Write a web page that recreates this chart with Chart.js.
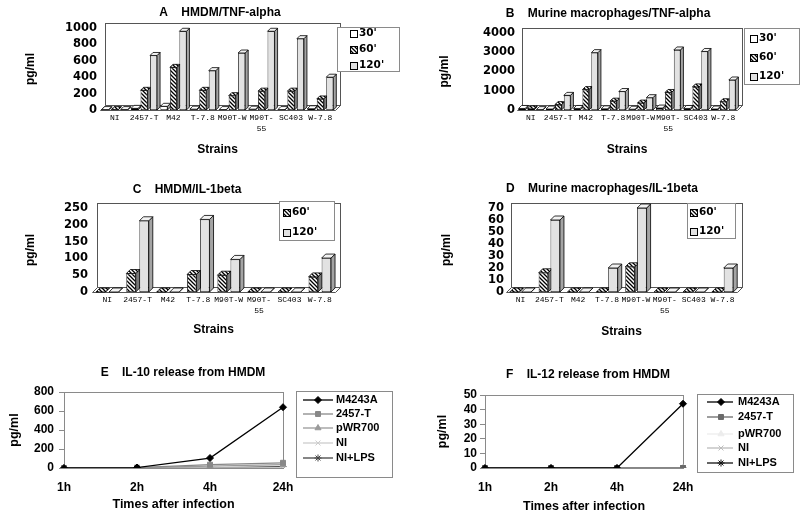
<!DOCTYPE html>
<html><head><meta charset="utf-8">
<script src="https://cdn.jsdelivr.net/npm/chart.js@4.4.1/dist/chart.umd.min.js"></script>
<style>
html,body{margin:0;padding:0;background:#fff;}
body{position:relative;width:800px;height:518px;overflow:hidden;}
canvas{position:absolute;display:block;}
</style></head><body>
<canvas id="cA" width="400" height="165" style="left:0px;top:0px;width:400px;height:165px"></canvas>
<canvas id="cB" width="400" height="165" style="left:400px;top:0px;width:400px;height:165px"></canvas>
<canvas id="cC" width="400" height="170" style="left:0px;top:170px;width:400px;height:170px"></canvas>
<canvas id="cD" width="400" height="170" style="left:400px;top:170px;width:400px;height:170px"></canvas>
<canvas id="cE" width="400" height="178" style="left:0px;top:340px;width:400px;height:178px"></canvas>
<canvas id="cF" width="400" height="178" style="left:400px;top:340px;width:400px;height:178px"></canvas>
<script>
// ---------------- data ----------------
const strains = ['NI', '2457-T', 'M42', 'T-7.8', 'M90T-W', ['M90T-', '55'], 'SC403', 'W-7.8'];
const timeLabels3 = ["30'", "60'", "120'"];
const timeLabels2 = ["60'", "120'"];

const hmdmTnf30  = [5, 20, 45, 10, 5, 10, 5, 15];
const hmdmTnf60  = [5, 240, 520, 240, 175, 230, 230, 135];
const hmdmTnf120 = [5, 665, 960, 480, 695, 960, 870, 400];

const murTnf30  = [80, 50, 80, 60, 40, 100, 80, 50];
const murTnf60  = [60, 280, 1060, 460, 360, 910, 1200, 430];
const murTnf120 = [20, 760, 2980, 960, 640, 3120, 3040, 1560];

const hmdmIl60  = [0, 55, 0, 52, 50, 0, 0, 45];
const hmdmIl120 = [0, 212, 0, 216, 97, 0, 0, 101];

const murIl60  = [0, 16, 0, 0, 21, 0, 0, 0];
const murIl120 = [0, 60, 0, 20, 70, 0, 0, 20];

const hours = ['1h', '2h', '4h', '24h'];
const lineNames = ['M4243A', '2457-T', 'pWR700', 'NI', 'NI+LPS'];

const il10M4243A = [0, 5, 105, 640];
const il10T2457  = [0, 5, 35, 55];
const il10PWR700 = [0, 3, 20, 35];
const il10NI     = [0, 0, 0, 0];
const il10NILPS  = [0, 0, 0, 15];

const il12M4243A = [0, 0, 0, 44];
const il12T2457  = [0, 0, 0, 0];
const il12PWR700 = [0, 0, 0, 0];
const il12NI     = [0, 0, 0, 0];
const il12NILPS  = [0, 0, 0, 0];

// ---------------- styles ----------------
const SANS = "'Liberation Sans', Arial, sans-serif";
const TICK = "'DejaVu Sans', sans-serif";
const MONO = "'Liberation Mono', 'Courier New', monospace";
Chart.defaults.color = '#000';

function hatchPattern() {
  const c = document.createElement('canvas');
  c.width = 4; c.height = 4;
  const g = c.getContext('2d');
  g.fillStyle = '#fff'; g.fillRect(0, 0, 4, 4);
  g.strokeStyle = '#000'; g.lineWidth = 1.3;
  g.beginPath();
  g.moveTo(-1, -1); g.lineTo(5, 5);
  g.moveTo(-1, 3); g.lineTo(1, 5);
  g.moveTo(3, -1); g.lineTo(5, 1);
  g.stroke();
  return g.createPattern(c, 'repeat');
}
const HATCH = hatchPattern();

const barStyle = {
  "30'":  { front: '#ffffff', top: '#ffffff', side: '#9a9a9a' },
  "60'":  { front: HATCH,     top: HATCH,     side: '#7a7a7a' },
  "120'": { front: '#e2e2e2', top: '#f2f2f2', side: '#a4a4a4' }
};

// ---------------- plugins ----------------
const titleShift = {
  id: 'titleShift',
  afterLayout(chart, args, o) {
    const t = chart.titleBlock;
    if (t && o && o.cx != null) { t.left = o.cx - 180; t.right = o.cx + 180; }
  }
};

const bar3d = {
  id: 'bar3d',
  beforeDatasetsDraw(chart, args, o) {
    const ctx = chart.ctx, ca = chart.chartArea;
    const wx = o.wall[0], wy = o.wall[1], d = o.depth;
    ctx.save();
    ctx.lineWidth = 1;
    ctx.strokeStyle = '#555';
    const L = Math.round(ca.left) + 0.5, R = Math.round(ca.right) + 0.5;
    const T = Math.round(ca.top) + 0.5, B = Math.round(ca.bottom) + 0.5;
    ctx.strokeRect(L + wx, T - wy, R - L, B - T);
    ctx.beginPath();
    ctx.moveTo(L, B); ctx.lineTo(R, B); ctx.lineTo(R + wx, B - wy); ctx.lineTo(L + wx, B - wy); ctx.closePath();
    ctx.fillStyle = '#fff'; ctx.fill(); ctx.stroke();
    const metas = chart.getSortedVisibleDatasetMetas();
    const n = chart.data.labels.length;
    ctx.lineWidth = 0.8;
    ctx.strokeStyle = '#000';
    for (let j = 0; j < n; j++) {
      for (const m of metas) {
        const el = m.data[j];
        const ds = chart.data.datasets[m.index];
        const p = el.getProps(['x', 'y', 'base', 'width'], true);
        const l = p.x - p.width / 2, r = p.x + p.width / 2, y = p.y, b = p.base;
        ctx.beginPath();
        ctx.moveTo(r, b); ctx.lineTo(r + d, b - d); ctx.lineTo(r + d, y - d); ctx.lineTo(r, y); ctx.closePath();
        ctx.fillStyle = ds.sideColor; ctx.fill(); ctx.stroke();
        ctx.beginPath();
        ctx.moveTo(l, y); ctx.lineTo(l + d, y - d); ctx.lineTo(r + d, y - d); ctx.lineTo(r, y); ctx.closePath();
        ctx.fillStyle = ds.topColor; ctx.fill(); ctx.stroke();
        el.draw(ctx, ca);
      }
    }
    ctx.restore();
    return false;
  }
};

const frame = {
  id: 'frame',
  beforeDatasetsDraw(chart) {
    const ctx = chart.ctx, ca = chart.chartArea;
    ctx.save();
    ctx.strokeStyle = '#8a8a8a'; ctx.lineWidth = 1;
    const L = Math.round(ca.left) + 0.5, R = Math.round(ca.right) + 0.5;
    const T = Math.round(ca.top) + 0.5, B = Math.round(ca.bottom) + 0.5;
    ctx.strokeRect(L, T, R - L, B - T);
    ctx.restore();
  }
};

const boxLegend = {
  id: 'boxLegend',
  afterDraw(chart, args, o) {
    const ctx = chart.ctx;
    ctx.save();
    const [x1, y1, x2, y2] = o.box;
    ctx.fillStyle = '#fff';
    ctx.fillRect(x1, y1, x2 - x1, y2 - y1);
    ctx.strokeStyle = '#8a8a8a'; ctx.lineWidth = 1;
    ctx.strokeRect(x1 + 0.5, y1 + 0.5, x2 - x1, y2 - y1);
    ctx.font = o.font;
    ctx.textBaseline = 'middle';
    ctx.textAlign = 'left';
    chart.data.datasets.forEach((ds, i) => {
      const y = o.rows[i];
      if (o.kind === 'bar') {
        const s = 7;
        ctx.fillStyle = ds.backgroundColor;
        ctx.fillRect(o.markX, Math.round(y - s / 2), s, s);
        ctx.strokeStyle = '#000'; ctx.lineWidth = 1;
        ctx.strokeRect(o.markX + 0.5, Math.round(y - s / 2) + 0.5, s, s);
      } else {
        ctx.strokeStyle = ds.borderColor; ctx.lineWidth = ds.borderWidth;
        ctx.beginPath(); ctx.moveTo(o.lineX[0], y); ctx.lineTo(o.lineX[1], y); ctx.stroke();
        ctx.fillStyle = ds.pointBackgroundColor; ctx.strokeStyle = ds.pointBorderColor;
        ctx.lineWidth = 1;
        Chart.helpers.drawPoint(ctx, { pointStyle: ds.pointStyle, radius: ds.pointRadius, rotation: 0, borderWidth: 1 }, o.markX, y);
      }
      ctx.fillStyle = '#000';
      ctx.fillText(ds.label, o.textX, y);
    });
    ctx.restore();
  }
};

const plain = v => String(v);

// ---------------- builders ----------------
function barSets(names, arrays) {
  return names.map((nm, i) => ({
    label: nm,
    data: arrays[i],
    backgroundColor: barStyle[nm].front,
    topColor: barStyle[nm].top,
    sideColor: barStyle[nm].side,
    borderColor: '#000',
    borderWidth: 0.8,
    borderSkipped: false
  }));
}

function makeBar(id, g, names, arrays, yMax, yStep) {
  const lh = 14.4;
  return new Chart(document.getElementById(id), {
    type: 'bar',
    data: { labels: strains, datasets: barSets(names, arrays) },
    options: {
      responsive: false, animation: false, devicePixelRatio: 1,
      events: [],
      layout: { padding: { left: 0, top: 0, bottom: 0, right: g.W - g.R } },
      datasets: { bar: { categoryPercentage: g.cat, barPercentage: g.bar } },
      scales: {
        x: {
          grid: { display: false, drawTicks: false }, border: { display: false },
          ticks: { font: { family: MONO, size: 8, lineHeight: 1.3 }, color: '#000', padding: 3,
                   autoSkip: false, maxRotation: 0, minRotation: 0 },
          title: { display: true, text: 'Strains', color: '#000',
                   font: { family: SANS, size: 12, weight: 'bold', lineHeight: 1.2 },
                   padding: { top: 0, bottom: g.H - g.xcy - lh / 2 } },
          afterFit: s => { s.height = g.H - g.B; }
        },
        y: {
          min: 0, max: yMax,
          grid: { display: false, drawTicks: false }, border: { display: false },
          ticks: { stepSize: yStep, color: '#000', padding: g.ytp, autoSkip: false, callback: plain,
                   font: { family: TICK, size: 11.5, weight: 'bold' } },
          title: { display: true, text: 'pg/ml', color: '#000',
                   font: { family: SANS, size: 12, weight: 'bold', lineHeight: 1.2 },
                   padding: { top: g.ycx - lh / 2, bottom: 0 } },
          afterFit: s => { s.width = g.L; }
        }
      },
      plugins: {
        legend: { display: false }, tooltip: { enabled: false },
        title: { display: true, text: g.title, color: '#000',
                 font: { family: SANS, size: 12, weight: 'bold', lineHeight: 1.2 },
                 padding: { top: g.tcy - lh / 2, bottom: g.T - (g.tcy - lh / 2) - lh } },
        titleShift: { cx: g.tcx },
        bar3d: { wall: [5, 5], depth: g.depth },
        boxLegend: Object.assign({ kind: 'bar', font: "bold 10.5px 'DejaVu Sans', sans-serif" }, g.legend)
      }
    },
    plugins: [titleShift, bar3d, boxLegend]
  });
}

const lineLook = [
  { color: '#000000', point: 'rectRot',  r: 3.5 },
  { color: '#888888', point: 'rect',     r: 3.5 },
  { color: '#9a9a9a', point: 'triangle', r: 3.5 },
  { color: '#cccccc', point: 'crossRot', r: 3.5 },
  { color: '#444444', point: 'star',     r: 3.5 }
];
const lineLookF = [
  { color: '#000000', point: 'rectRot',  r: 3.5 },
  { color: '#6a6a6a', point: 'rect',     r: 3.5 },
  { color: '#ececec', point: 'triangle', r: 3.5 },
  { color: '#bbbbbb', point: 'crossRot', r: 3.5 },
  { color: '#111111', point: 'star',     r: 3.5 }
];

function makeLine(id, g, arrays, looks, yMax, yStep) {
  const lh = 14.4;
  const sets = lineNames.map((nm, i) => ({
    label: nm, data: arrays[i],
    borderColor: looks[i].color, backgroundColor: looks[i].color,
    pointBackgroundColor: looks[i].color, pointBorderColor: looks[i].color,
    pointStyle: looks[i].point, pointRadius: looks[i].r, pointBorderWidth: 1,
    borderWidth: 1.3, tension: 0, fill: false
  }));
  return new Chart(document.getElementById(id), {
    type: 'line',
    data: { labels: hours, datasets: sets },
    options: {
      responsive: false, animation: false, devicePixelRatio: 1,
      events: [],
      layout: { padding: { left: 0, top: 0, bottom: 0, right: g.W - g.R } },
      scales: {
        x: {
          offset: false,
          grid: { display: false, drawTicks: false }, border: { display: false },
          ticks: { font: { family: SANS, size: 12, weight: 'bold' }, color: '#000', padding: g.xtp,
                   autoSkip: false, maxRotation: 0, minRotation: 0 },
          title: { display: true, text: 'Times after infection', color: '#000',
                   font: { family: SANS, size: 12.5, weight: 'bold', lineHeight: 1.2 },
                   padding: { top: 0, bottom: g.H - g.xcy - 7.5 } },
          afterFit: s => { s.height = g.H - g.B; }
        },
        y: {
          min: 0, max: yMax,
          grid: { display: true, drawOnChartArea: false, drawTicks: true, tickLength: 5, color: '#8a8a8a' },
          border: { display: false },
          ticks: { stepSize: yStep, color: '#000', padding: g.ytp, autoSkip: false, callback: plain,
                   font: { family: SANS, size: 12, weight: 'bold' } },
          title: { display: true, text: 'pg/ml', color: '#000',
                   font: { family: SANS, size: 12.5, weight: 'bold', lineHeight: 1.2 },
                   padding: { top: g.ycx - 7.5, bottom: 0 } },
          afterFit: s => { s.width = g.L; }
        }
      },
      plugins: {
        legend: { display: false }, tooltip: { enabled: false },
        title: { display: true, text: g.title, color: '#000',
                 font: { family: SANS, size: 12, weight: 'bold', lineHeight: 1.2 },
                 padding: { top: g.tcy - lh / 2, bottom: g.T - (g.tcy - lh / 2) - lh } },
        titleShift: { cx: g.tcx },
        boxLegend: Object.assign({ kind: 'line', font: "bold 11px 'Liberation Sans', Arial, sans-serif" }, g.legend)
      }
    },
    plugins: [titleShift, frame, boxLegend]
  });
}

// ---------------- charts ----------------
makeBar('cA', {
  W: 400, H: 165, L: 100, R: 335, T: 28, B: 110,
  title: 'A    HMDM/TNF-alpha', tcx: 220, tcy: 13,
  xcy: 150, ycx: 31, ytp: 3, cat: 0.97, bar: 0.74, depth: 3,
  legend: { box: [337, 27, 399, 71], rows: [33, 49, 65], markX: 350, textX: 359 }
}, timeLabels3, [hmdmTnf30, hmdmTnf60, hmdmTnf120], 1000, 200);

makeBar('cB', {
  W: 400, H: 165, L: 117, R: 337, T: 33, B: 110,
  title: 'B    Murine macrophages/TNF-alpha', tcx: 208, tcy: 14,
  xcy: 150, ycx: 45, ytp: 2, cat: 0.97, bar: 0.74, depth: 3,
  legend: { box: [344, 28, 399, 84], rows: [38, 57, 76], markX: 350, textX: 359 }
}, timeLabels3, [murTnf30, murTnf60, murTnf120], 4000, 1000);

makeBar('cC', {
  W: 400, H: 170, L: 92, R: 335, T: 38, B: 122,
  title: 'C    HMDM/IL-1beta', tcx: 187, tcy: 20,
  xcy: 160, ycx: 31, ytp: 4, cat: 0.86, bar: 0.72, depth: 4,
  legend: { box: [279, 31, 334, 70], rows: [42, 62], markX: 283, textX: 292 }
}, timeLabels2, [hmdmIl60, hmdmIl120], 250, 50);

makeBar('cD', {
  W: 400, H: 170, L: 106, R: 337, T: 38, B: 122,
  title: 'D    Murine macrophages/IL-1beta', tcx: 202, tcy: 19,
  xcy: 162, ycx: 47, ytp: 2, cat: 0.82, bar: 0.8, depth: 4,
  legend: { box: [287, 33, 335, 68], rows: [42, 61], markX: 290, textX: 299 }
}, timeLabels2, [murIl60, murIl120], 70, 10);

makeLine('cE', {
  W: 400, H: 178, L: 64, R: 283, T: 52, B: 128,
  title: 'E    IL-10 release from HMDM', tcx: 183, tcy: 33,
  xcy: 165, ycx: 15, ytp: 5, xtp: 12,
  legend: { box: [296, 51, 392, 137], rows: [60, 74, 88, 103, 118], lineX: [303, 333], markX: 318, textX: 336 }
}, [il10M4243A, il10T2457, il10PWR700, il10NI, il10NILPS], lineLook, 800, 200);

makeLine('cF', {
  W: 400, H: 178, L: 85, R: 283, T: 55, B: 128,
  title: 'F    IL-12 release from HMDM', tcx: 188, tcy: 35,
  xcy: 167, ycx: 43, ytp: 3, xtp: 12,
  legend: { box: [297, 54, 393, 132], rows: [62, 77, 94, 108, 123], lineX: [307, 333], markX: 321, textX: 338 }
}, [il12M4243A, il12T2457, il12PWR700, il12NI, il12NILPS], lineLookF, 50, 10);
</script>
</body></html>
